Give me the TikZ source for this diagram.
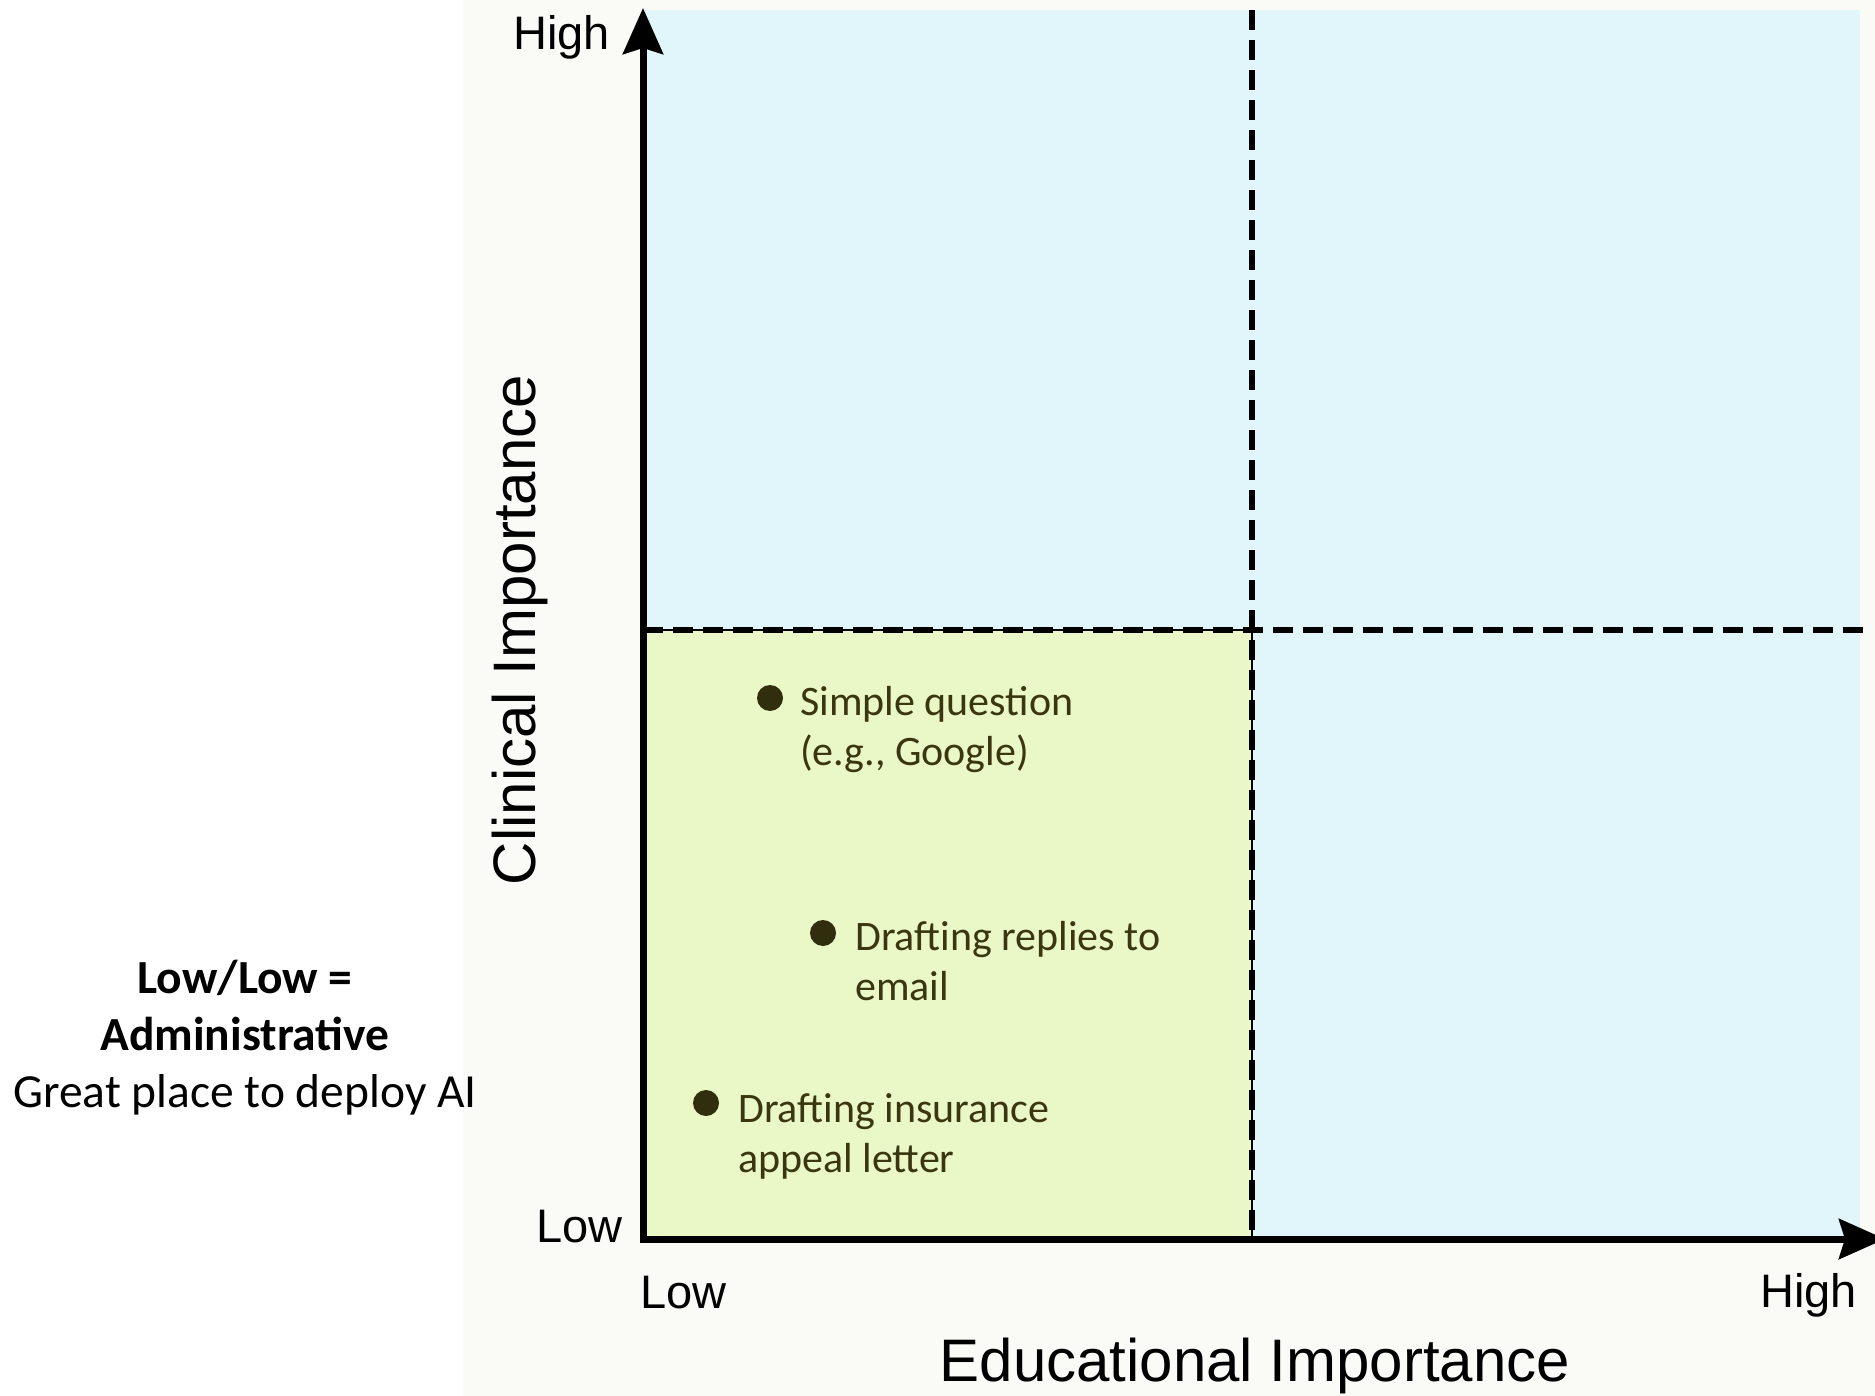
\documentclass[tikz,border=0pt]{standalone}
\usepackage{fontspec}
\setmainfont{Carlito}
\newfontfamily\chartfont{Liberation Sans}
\usetikzlibrary{arrows.meta}
\tikzset{>={Stealth[length=46pt,width=40pt,inset=6pt]}}
\definecolor{quadblue}{RGB}{224,246,250}
\definecolor{quadgreen}{RGB}{234,248,200}
\definecolor{paper}{RGB}{250,250,247}
\definecolor{taskcol}{RGB}{58,54,16}
\tikzstyle{axis}=[line width=7pt,line join=miter]
\tikzstyle{divider}=[line width=6.5pt,dash pattern=on 20pt off 10pt]
\tikzstyle{ticklabel}=[inner sep=0,font=\chartfont\fontsize{47}{56}\selectfont]
\tikzstyle{axislabel}=[inner sep=0,font=\chartfont\fontsize{60}{70}\selectfont]
\tikzstyle{task}=[inner sep=0,align=left,text=taskcol,font=\fontsize{42}{50}\selectfont]
\tikzstyle{taskdot}=[circle,fill=taskcol!85!black,inner sep=0,minimum size=26pt]

\begin{document}
\begin{tikzpicture}[x=1pt,y=-1pt]
  \def\Ox{643}
  \def\Oy{1239}
  \def\Mx{1252}
  \def\My{630}
  \useasboundingbox (0,0) rectangle (1875,1396);
  % chart area and quadrants
  \fill[paper] (463,0) rectangle (1875,1396);
  \fill[quadblue] (\Ox,10) rectangle (1860,\Oy);
  \draw[fill=quadgreen,line width=2.5pt] (\Ox,\My) rectangle (\Mx,\Oy);
  \draw[divider] (\Mx,10) -- (\Mx,\Oy);
  \draw[divider] (\Ox,\My) -- (1866,\My);
  % axes
  \coordinate (O) at (\Ox,\Oy);
  \coordinate (ytop) at (\Ox,8);
  \coordinate (xend) at (1885,\Oy);
  \draw[axis,<->] (ytop) -- (O) -- (xend);
  \node[ticklabel,anchor=base east] (yhigh) at (610,50) {High};
  \node[ticklabel,anchor=base east] (ylow) at (623,1242) {Low};
  \node[ticklabel,anchor=base west] (xlow) at (640,1308) {Low};
  \node[ticklabel,anchor=base east] (xhigh) at (1857,1307) {High};
  \node[axislabel,anchor=base] (xlabel) at (1255,1381) {Educational Importance};
  \node[axislabel,anchor=base,rotate=90] (ylabel) at (535,630) {Clinical Importance};
  % tasks in the low/low corner (base = last line)
  \node[taskdot] (d1) at (770,698) {};
  \node[task,anchor=base west] (t1) at (800,765) {Simple question\\(e.g., Google)};
  \node[taskdot] (d2) at (823,933) {};
  \node[task,anchor=base west] (t2) at (855,1000) {Drafting replies to\\email};
  \node[taskdot] (d3) at (706,1103) {};
  \node[task,anchor=base west] (t3) at (738,1172) {Drafting insurance\\appeal letter};
  % note on the left
  \node[inner sep=0,align=center,anchor=base,font=\fontsize{47.5}{57}\selectfont] (note) at (245,1107)
    {\textbf{Low/Low =}\\\textbf{Administrative}\\Great place to deploy AI};
\end{tikzpicture}
\end{document}
